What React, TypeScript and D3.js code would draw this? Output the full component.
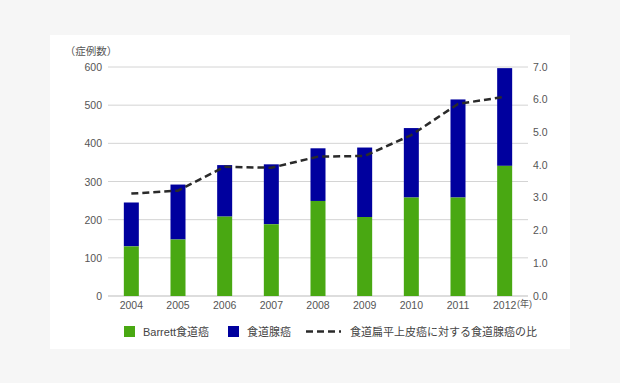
import React from "react";
import * as d3 from "d3";

const years = ["2004", "2005", "2006", "2007", "2008", "2009", "2010", "2011", "2012"];
const barrett = [130, 148, 208, 188, 249, 207, 258, 258, 341];
const totalAdeno = [245, 292, 343, 345, 387, 389, 440, 515, 597];
const ratio = [3.13, 3.22, 3.95, 3.92, 4.26, 4.28, 4.92, 5.87, 6.09];
const leftTicks = [0, 100, 200, 300, 400, 500, 600];
const rightTicks = [0, 1, 2, 3, 4, 5, 6, 7];
const legendLabels = ["Barrett食道癌", "食道腺癌", "食道扁平上皮癌に対する食道腺癌の比"];

const GREEN = "#49a812";
const BLUE = "#00009e";
const FONT = "'Liberation Sans', 'Noto Sans CJK JP', sans-serif";

export default function App() {
  const W = 620, H = 383;
  const left = 108, right = 528, top = 67, bottom = 296;
  const x = d3.scaleBand<string>().domain(years).range([left, right]).paddingInner(0.68).paddingOuter(0.34);
  const yL = d3.scaleLinear().domain([0, 600]).range([bottom, top]);
  const yR = d3.scaleLinear().domain([0, 7]).range([bottom, top]);
  const bw = 15;
  const cx = (yr: string) => (x(yr) as number) + x.bandwidth() / 2;
  const line = d3.line<number>().x((_, i) => cx(years[i])).y((d) => yR(d));

  return (
    <div style={{ position: "absolute", left: 0, top: 0 }}>
      <svg width={W} height={H} style={{ display: "block", fontFamily: FONT }}>
        <rect x={0} y={0} width={W} height={H} fill="#f6f6f6" />
        <rect x={50} y={35} width={520} height={314} fill="#ffffff" />
        {leftTicks.map((t) => (
          <g key={"g" + t}>
            <line x1={left} x2={right} y1={yL(t)} y2={yL(t)} stroke={t === 0 ? "#bbb" : "#d4d4d4"} strokeWidth={1} />
            <text x={102} y={yL(t) + 4} textAnchor="end" fontSize={10.5} fill="#555">{t}</text>
          </g>
        ))}
        {rightTicks.map((t) => (
          <text key={"r" + t} x={533} y={yR(t) + 3.5} textAnchor="start" fontSize={10.5} fill="#555">{t.toFixed(1)}</text>
        ))}
        <text x={91} y={55} textAnchor="middle" fontSize={10.5} fill="#555">（症例数）</text>
        {years.map((yr, i) => (
          <g key={yr}>
            <rect x={cx(yr) - bw / 2} y={yL(totalAdeno[i])} width={bw} height={yL(barrett[i]) - yL(totalAdeno[i])} fill={BLUE} />
            <rect x={cx(yr) - bw / 2} y={yL(barrett[i])} width={bw} height={bottom - yL(barrett[i])} fill={GREEN} />
            <text x={cx(yr)} y={309} textAnchor="middle" fontSize={10.5} fill="#555">{yr}</text>
          </g>
        ))}
        <text x={517} y={307} fontSize={9} fill="#555">(年)</text>
        <path d={line(ratio) || ""} fill="none" stroke="#2a2a2a" strokeWidth={2.5} strokeDasharray="7,4" />
        <g fontSize={11} fill="#444">
          <rect x={124} y={326} width={11} height={11} fill={GREEN} />
          <text x={143} y={336}>{legendLabels[0]}</text>
          <rect x={228} y={326} width={11} height={11} fill={BLUE} />
          <text x={247} y={336}>{legendLabels[1]}</text>
          <line x1={306} x2={341} y1={331.5} y2={331.5} stroke="#2a2a2a" strokeWidth={2.5} strokeDasharray="7,4" />
          <text x={350} y={336}>{legendLabels[2]}</text>
        </g>
      </svg>
    </div>
  );
}
